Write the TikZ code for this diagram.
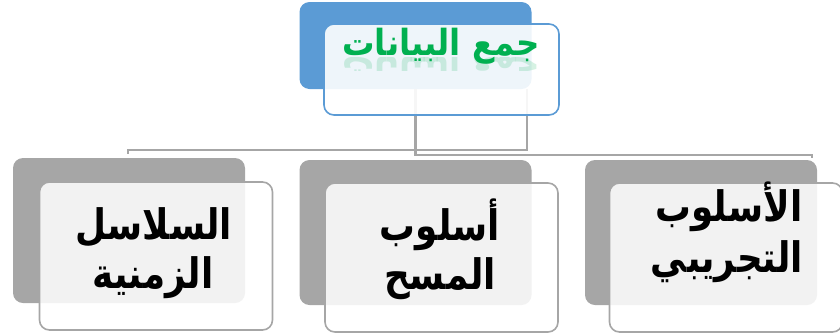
\documentclass[tikz,border=0pt]{standalone}
\usepackage{fontspec}
\newfontfamily\arabicfont[Script=Arabic]{DejaVu Sans}
\TeXXeTstate=1
\definecolor{topblue}{HTML}{5B9BD5}
\definecolor{boxgray}{HTML}{A6A6A6}
\definecolor{titlegreen}{HTML}{00B050}
\tikzset{
  backbox/.style={rounded corners=10pt, inner sep=0pt, minimum width=232pt},
  frontbox/.style={rounded corners=10pt, inner sep=0pt, line width=1.6pt,
    fill=white, fill opacity=0.86, minimum width=233pt},
  link/.style={draw=boxgray, line width=2.2pt},
  labeltext/.style={font=\arabicfont\bfseries\fontsize{42}{50}\selectfont, anchor=base,
    inner sep=0pt, xscale=0.85, transform shape},
  titletext/.style={font=\arabicfont\bfseries\fontsize{36}{40}\selectfont, text=titlegreen,
    anchor=base, inner sep=0pt, xscale=0.9, transform shape}
}
\begin{document}
\begin{tikzpicture}[x=1pt, y=-1pt]
    \useasboundingbox (0,0) rectangle (840,333);
    % Back boxes
    \node[backbox, fill=topblue, minimum height=87pt] (topback) at (415.5,45.5) {};
    \node[backbox, fill=boxgray, minimum height=145pt] (leftback) at (129,230.5) {};
    \node[backbox, fill=boxgray, minimum height=145pt] (midback) at (415.5,232.5) {};
    \node[backbox, fill=boxgray, minimum height=145pt] (rightback) at (701,232.5) {};
    % Connectors
    \coordinate (startB) at (527,89);
    \coordinate (dropR) at (812,158);
    \coordinate (dropL) at (128,154);
    \draw[link] (topback.south) -- ++(0,66) -| (dropR);
    \draw[link] (startB) -- ++(0,61) -| (dropL);
    % Front boxes
    \node[frontbox, draw=topblue, fill opacity=0.9, minimum width=235pt, minimum height=91pt] (topfront) at (441.5,69.5) {};
    \node[frontbox, draw=boxgray, minimum height=148pt] (leftfront) at (156,256) {};
    \node[frontbox, draw=boxgray, minimum height=149pt] (midfront) at (441.5,257.5) {};
    \node[frontbox, draw=boxgray, minimum height=149pt] (rightfront) at (726,257.5) {};
    % Labels
    \node[labeltext] (leftA) at (154,239) {\beginR السلاسل\endR};
    \node[labeltext] (leftB) at (153,288) {\beginR الزمنية\endR};
    \node[labeltext] (midA) at (440,240) {\beginR أسلوب\endR};
    \node[labeltext] (midB) at (440,289) {\beginR المسح\endR};
    \node[labeltext] (rightA) at (729,221) {\beginR الأسلوب\endR};
    \node[labeltext] (rightB) at (727,272) {\beginR التجريبي\endR};
    % Title and its reflection
    \node[titletext] (title) at (441,55) {\beginR جمع البيانات\endR};
    \begin{scope}[shift={(441,57)}, yscale=-1]
        \clip (-120,0) rectangle (120,-13);
        \node[titletext, text opacity=0.16] (titleshadow) at (0,0) {\beginR جمع البيانات\endR};
    \end{scope}
\end{tikzpicture}
\end{document}
